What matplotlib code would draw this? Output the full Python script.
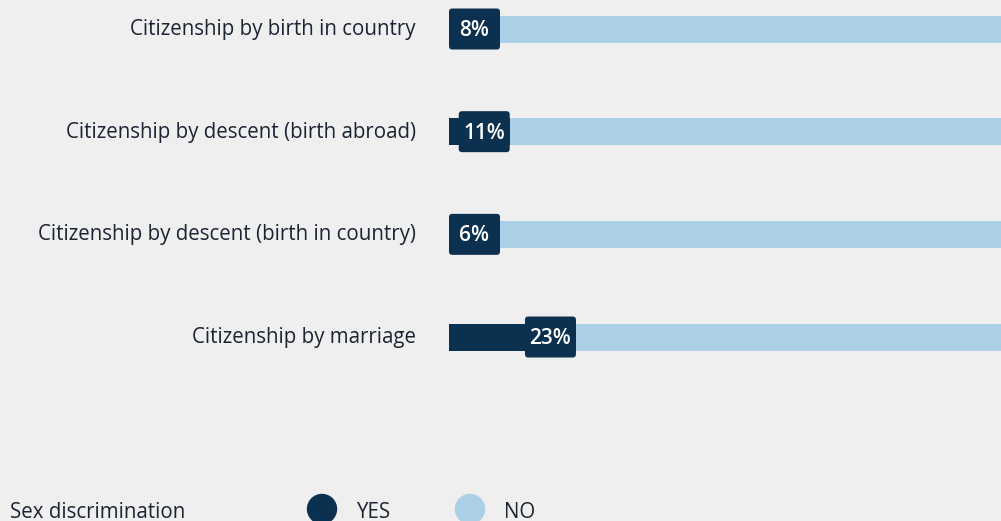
import matplotlib
matplotlib.use("Agg")
from matplotlib import pyplot as plt
from matplotlib.patches import FancyBboxPatch, Ellipse

# Data
categories = ["Citizenship by birth in country",
              "Citizenship by descent (birth abroad)",
              "Citizenship by descent (birth in country)",
              "Citizenship by marriage"]
yes_pct = [8, 11, 6, 23]
no_pct = [100 - v for v in yes_pct]

dark = "#0b3050"
light = "#abcfe6"
bg = "#efefef"
txt = "#1c2433"

plt.rcParams['font.family'] = ['Open Sans', 'DejaVu Sans']

fig = plt.figure(figsize=(10.01, 5.21), dpi=100, facecolor=bg)
ax = fig.add_axes([449 / 1001, 0, 552 / 1001, 1])
ax.set_facecolor(bg)

ypos = list(range(len(categories)))
ax.barh(ypos, yes_pct, height=0.263, color=dark)
ax.barh(ypos, no_pct, left=yes_pct, height=0.263, color=light)
ax.set_xlim(0, 100)
ax.set_ylim(4.792, -0.2825)

# label boxes
px_x = 5.52     # pixels per x unit
px_y = 102.67   # pixels per y unit
box_w = 51 / px_x
box_h = 41 / px_y
for i, v in enumerate(yes_pct):
    right = max(v, box_w)
    left = right - box_w
    box = FancyBboxPatch((left, i - box_h / 2), box_w, box_h,
                         boxstyle="round,pad=0,rounding_size=0.6",
                         mutation_aspect=px_x / px_y,
                         facecolor=dark, edgecolor="none", zorder=3)
    ax.add_patch(box)
    ax.text(left + box_w / 2, i + 0.015, f"{v}%", color="white",
            fontsize=15, fontweight="semibold", ha="center", va="center", zorder=4)
    ax.text(-33 / px_x, i + 0.005, categories[i], color=txt, fontsize=14.8,
            ha="right", va="center", clip_on=False)

ax.axis("off")

# legend at the bottom
fig.text(10 / 1001, 1 - 512 / 521, "Sex discrimination", color=txt,
         fontsize=14.8, va="center", ha="left")
for cx, col, lab in [(322, dark, "YES"), (470, light, "NO")]:
    fig.add_artist(Ellipse((cx / 1001, 1 - 509 / 521), 29 / 1001, 29 / 521,
                           transform=fig.transFigure, color=col))
    fig.text((cx + 34) / 1001, 1 - 512 / 521, lab, color=txt,
             fontsize=14.8, va="center", ha="left")

fig.savefig("out.png", dpi=100, facecolor=bg)
